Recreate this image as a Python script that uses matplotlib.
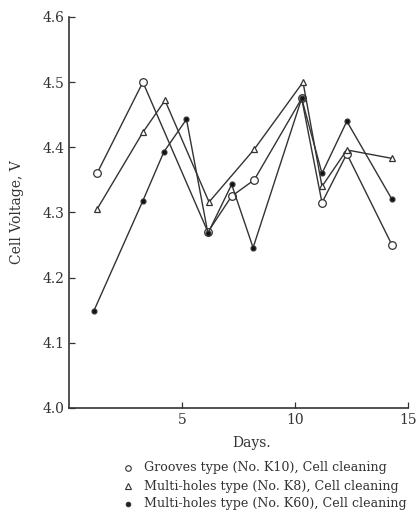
import matplotlib
matplotlib.use("Agg")
import matplotlib.pyplot as plt

# ── data ──────────────────────────────────────────────────────────────
k10_days = [1.24, 3.27, 6.15, 7.2, 8.2, 10.3, 11.2, 12.3, 14.3]
k10_volt = [4.36, 4.50, 4.27, 4.325, 4.35, 4.475, 4.315, 4.39, 4.25]

k8_days = [1.24, 3.27, 4.25, 6.2, 8.2, 10.36, 11.2, 12.3, 14.3]
k8_volt = [4.305, 4.423, 4.472, 4.316, 4.397, 4.50, 4.34, 4.396, 4.383]

k60_days = [1.1, 3.27, 4.2, 5.2, 6.15, 7.2, 8.15, 10.3, 11.2, 12.3, 14.3]
k60_volt = [4.149, 4.318, 4.393, 4.443, 4.268, 4.343, 4.246, 4.475, 4.36, 4.44, 4.32]

x_ticks = [5, 10, 15]
y_ticks = [4.0, 4.1, 4.2, 4.3, 4.4, 4.5, 4.6]

legend_lines = [
    ("o", "white", "Grooves type (No. K10), Cell cleaning"),
    ("^", "white", "Multi-holes type (No. K8), Cell cleaning"),
    ("o", "#222222", "Multi-holes type (No. K60), Cell cleaning"),
]

# ── figure ────────────────────────────────────────────────────────────
plt.rcParams["font.family"] = ["DejaVu Serif"]
ink = "#333333"

fig = plt.figure(figsize=(4.17, 5.21), dpi=100)
ax = fig.add_axes([0.1655, 0.2169, 0.8125, 0.7505])

line_kw = dict(color=ink, linewidth=1.0, markeredgecolor=ink,
               markeredgewidth=0.9, clip_on=False)
ax.plot(k10_days, k10_volt, marker="o", markersize=5.5,
        markerfacecolor="white", **line_kw)
ax.plot(k8_days, k8_volt, marker="^", markersize=4.5,
        markerfacecolor="white", **line_kw)
ax.plot(k60_days, k60_volt, marker="o", markersize=3.5,
        markerfacecolor="#111111", **line_kw)

ax.set_xlim(0, 15)
ax.set_ylim(4.0, 4.6)
ax.set_xticks(x_ticks)
ax.set_xticklabels([str(t) for t in x_ticks])
ax.set_yticks(y_ticks)
ax.set_yticklabels([f"{t:.1f}" for t in y_ticks])
ax.tick_params(direction="in", length=4, width=0.9, labelsize=10,
               colors=ink)
ax.spines["top"].set_visible(False)
ax.spines["right"].set_visible(False)
for s in ("left", "bottom"):
    ax.spines[s].set_linewidth(1.2)
    ax.spines[s].set_color(ink)

fig.text(0.041, 0.593, "Cell Voltage, V", rotation=90, ha="center",
         va="center", fontsize=10, color=ink)
fig.text(0.604, 0.150, "Days.", ha="center", va="center", fontsize=10,
         color=ink)

# legend rows (text kept whole, so slightly smaller than the clipped original)
row_y = [0.102, 0.067, 0.033]
for (mk, fc, label), y in zip(legend_lines, row_y):
    fig.lines.append(plt.Line2D([0.308], [y], marker=mk,
                                markersize=4 if fc == "white" else 3.2,
                                markerfacecolor=fc, markeredgecolor=ink,
                                markeredgewidth=0.8, linestyle="none",
                                transform=fig.transFigure))
    fig.text(0.345, y, label, ha="left", va="center", fontsize=9.1,
             color=ink)

fig.savefig("out.png", dpi=100)
